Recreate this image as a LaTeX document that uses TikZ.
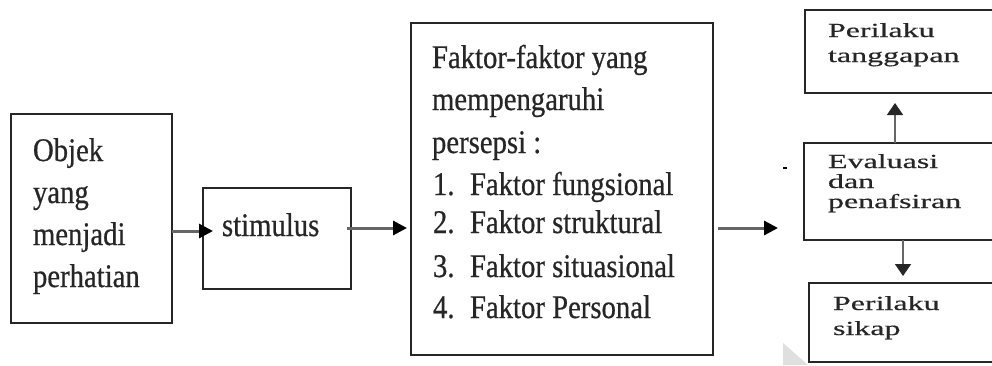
\documentclass[tikz,border=0pt]{standalone}
\usepackage{fontspec}
\setmainfont{Liberation Serif}
\newfontfamily\mainf[FakeStretch=0.87,FakeBold=0.6]{Liberation Serif}
\newfontfamily\widef[FakeStretch=1.6,FakeBold=0.5]{Liberation Serif}
\usetikzlibrary{arrows.meta}
\begin{document}
\begin{tikzpicture}[x=1pt,y=-1pt,
  box/.style={draw=black!85, line width=1.8pt, inner sep=0pt, outer sep=0pt},
  bigtxt/.style={anchor=base west, inner sep=0pt, outer sep=0pt, text=black!85, font=\mainf\fontsize{33}{40}\selectfont},
  smalltxt/.style={anchor=base west, inner sep=0pt, outer sep=0pt, text=black!85, font=\widef\fontsize{20}{24}\selectfont},
  arrowA/.style={draw=black!60, line width=3pt, -{Triangle[length=14pt,width=14pt,color=black]}},
  arrowB/.style={draw=black!60, line width=1.6pt, -{Triangle[length=12pt,width=16pt,color=black!85]}}]
\useasboundingbox (0,0) rectangle (992,365);
\clip (0,0) rectangle (992,365);
% boxes
\node[box, minimum width=161pt, minimum height=209pt] (obj) at (91.5,218.5) {};
\node[box, minimum width=148pt, minimum height=101pt] (stim) at (277,238.5) {};
\node[box, minimum width=302pt, minimum height=332pt] (fak) at (562,189) {};
\node[box, minimum width=205pt, minimum height=83pt] (tang) at (907.5,51.5) {};
\node[box, minimum width=206pt, minimum height=97pt] (eval) at (907,191.5) {};
\node[box, minimum width=201pt, minimum height=79pt] (sikap) at (909.5,322.5) {};
% texts
\node[bigtxt] (o1) at (33,161) {Objek};
\node[bigtxt] (o2) at (33,203) {yang};
\node[bigtxt] (o3) at (33,245) {menjadi};
\node[bigtxt] (o4) at (33,287) {perhatian};
\node[bigtxt] (s1) at (222,236) {stimulus};
\node[bigtxt] (f1) at (432,68) {Faktor-faktor yang};
\node[bigtxt] (f2) at (432,110) {mempengaruhi};
\node[bigtxt] (f3) at (432,153) {persepsi :};
\node[bigtxt] (f4) at (433,195) {\makebox[37pt][l]{1.}Faktor fungsional};
\node[bigtxt] (f5) at (433,233) {\makebox[37pt][l]{2.}Faktor struktural};
\node[bigtxt] (f6) at (433,277) {\makebox[37pt][l]{3.}Faktor situasional};
\node[bigtxt] (f7) at (433,318) {\makebox[37pt][l]{4.}Faktor Personal};
\node[smalltxt] (t1) at (828,37) {Perilaku};
\node[smalltxt] (t2) at (828,62) {tanggapan};
\node[smalltxt] (e1) at (828,168) {Evaluasi};
\node[smalltxt] (e2) at (828,188) {dan};
\node[smalltxt] (e3) at (828,208) {penafsiran};
\node[smalltxt] (k1) at (833,310) {Perilaku};
\node[smalltxt] (k2) at (833,335) {sikap};
% connectors
\path (obj.east |- stim.west) ++(0,-7.5) coordinate (a1s);
\draw[arrowA, shorten >=-10pt] (a1s) -- (a1s -| stim.west);
\path (stim.east) ++(-4,-10.5) coordinate (a2s);
\draw[arrowA, shorten >=4pt] (a2s) -- (a2s -| fak.west);
\path (fak.east) ++(5,39) coordinate (a3s);
\draw[arrowA, shorten >=26pt] (a3s) -- (a3s -| eval.west);
\path (eval.north) ++(-12,0) coordinate (us);
\draw[arrowB, shorten >=10pt] (us) -- (us |- tang.south);
\path (eval.south) ++(-4,0) coordinate (ds);
\draw[arrowB, shorten >=7pt] (ds) -- (ds |- sikap.north);
% small marks
\draw[line width=1.5pt] (783,168) -- (787,168);
\fill[gray!25] (783,343) -- (808,365) -- (783,365) -- cycle;
\end{tikzpicture}
\end{document}
